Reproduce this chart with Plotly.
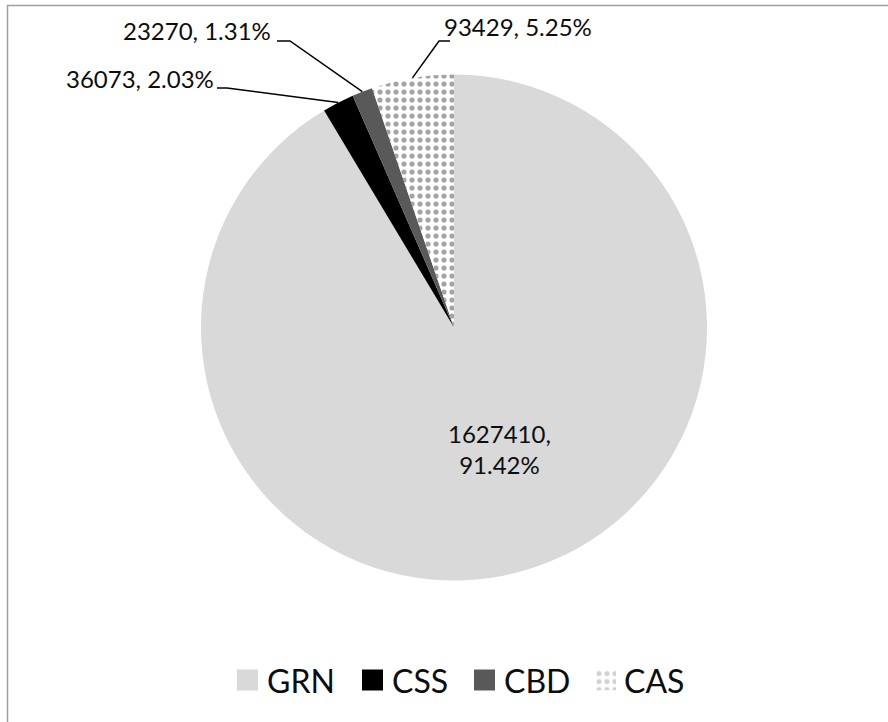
import math
import plotly.graph_objects as go

# Slice data
categories = ["GRN", "CSS", "CBD", "CAS"]
values = [1627410, 36073, 23270, 93429]

# Colours / fill styles per slice
colors = ["#d9d9d9", "#000000", "#595959", "#ffffff"]
patterns = ["", "", "", "."]
PATTERN_STYLE = dict(fgcolor="#a3a3a3", bgcolor="#ffffff", size=8, solidity=0.33)

W, H = 888, 722
CX, CY, R = 454.0, 327.5, 253.0   # pie centre and radius in pixels
FONT = "Lato"
TEXT_COLOR = "#0d0d0d"

# Label placement (pixels): text anchor, and the bend of the leader line
label_layout = {
    "CSS": dict(x=216, y=79, xanchor="right", bend=[(227, 88), (217, 88)]),
    "CBD": dict(x=273, y=30, xanchor="right", bend=[(290, 41), (277, 41)]),
    "CAS": dict(x=442, y=27, xanchor="left", bend=[(439, 41), (450, 41)]),
}

# Legend placement (pixels): swatch left edges, text left edges, row centre
legend_swatch_x = [237, 362, 474, 595]
legend_text_x = [265, 390, 502, 622]
LEGEND_Y = 680
SWATCH = 21


def px(x):
    return x / W


def py(y):
    return 1 - y / H


total = sum(values)

fig = go.Figure(
    go.Pie(
        labels=categories,
        values=values,
        sort=False,
        direction="clockwise",
        rotation=0,
        textinfo="none",
        hoverinfo="label+value+percent",
        showlegend=False,
        marker=dict(
            colors=colors,
            line=dict(width=0),
            pattern=dict(shape=patterns, **PATTERN_STYLE),
        ),
        domain=dict(x=[px(CX - R), px(CX + R)], y=[py(CY + R), py(CY - R)]),
    )
)

annotations = []
shapes = []
cum = 0.0
for name, v in zip(categories, values):
    frac = v / total
    mid = cum + frac / 2
    cum += frac
    ang = 2 * math.pi * mid
    pct = f"{frac * 100:.2f}%"
    if name in label_layout:
        lay = label_layout[name]
        ex = CX + R * math.sin(ang)
        ey = CY - R * math.cos(ang)
        (bx1, by1), (bx2, by2) = lay["bend"]
        path = (
            f"M {px(ex)},{py(ey)} L {px(bx1)},{py(by1)} L {px(bx2)},{py(by2)}"
        )
        shapes.append(
            dict(type="path", xref="paper", yref="paper", path=path,
                 line=dict(color="#000000", width=1.5))
        )
        annotations.append(
            dict(x=px(lay["x"]), y=py(lay["y"]), xref="paper", yref="paper",
                 text=f"{v}, {pct}", showarrow=False,
                 xanchor=lay["xanchor"], yanchor="middle",
                 font=dict(family=FONT, size=24, color=TEXT_COLOR))
        )
    else:
        # large slice: label inside, halfway out along the mid angle
        rr = 0.5 * R
        tx = CX + rr * math.sin(ang)
        ty = CY - rr * math.cos(ang)
        annotations.append(
            dict(x=px(tx), y=py(ty), xref="paper", yref="paper",
                 text=f"{v},<br>{pct}", showarrow=False, xshift=12,
                 xanchor="center", yanchor="middle",
                 font=dict(family=FONT, size=24, color=TEXT_COLOR))
        )

# Legend: swatches and names along the bottom
for i, name in enumerate(categories):
    sx = legend_swatch_x[i]
    x0, x1 = px(sx), px(sx + SWATCH)
    y0, y1 = py(LEGEND_Y + SWATCH / 2), py(LEGEND_Y - SWATCH / 2)
    if patterns[i]:
        # patterned swatch drawn as a filled polygon on its own hidden axes
        fig.add_trace(
            go.Scatter(
                x=[0, 1, 1, 0, 0], y=[0, 0, 1, 1, 0],
                mode="lines", fill="toself",
                line=dict(width=0, color="rgba(0,0,0,0)"),
                fillcolor=PATTERN_STYLE["bgcolor"],
                fillpattern=dict(shape=patterns[i], **PATTERN_STYLE),
                hoverinfo="skip", showlegend=False,
                xaxis="x", yaxis="y",
            )
        )
        fig.update_layout(
            xaxis=dict(domain=[x0, x1], range=[0, 1], visible=False, fixedrange=True),
            yaxis=dict(domain=[y0, y1], range=[0, 1], visible=False, fixedrange=True),
        )
    else:
        shapes.append(
            dict(type="rect", xref="paper", yref="paper",
                 x0=x0, x1=x1, y0=y0, y1=y1,
                 line=dict(width=0), fillcolor=colors[i])
        )
    annotations.append(
        dict(x=px(legend_text_x[i]), y=py(LEGEND_Y), xref="paper", yref="paper",
             text=name, showarrow=False, xanchor="left", yanchor="middle",
             font=dict(family=FONT, size=32, color=TEXT_COLOR))
    )

# Chart frame
shapes.append(
    dict(type="rect", xref="paper", yref="paper",
         x0=px(7.5), x1=1.05, y0=-0.05, y1=py(5.5),
         line=dict(color="#9e9e9e", width=1.5), fillcolor="rgba(0,0,0,0)")
)

fig.update_layout(
    width=W,
    height=H,
    margin=dict(l=0, r=0, t=0, b=0),
    paper_bgcolor="#ffffff",
    plot_bgcolor="rgba(0,0,0,0)",
    showlegend=False,
    annotations=annotations,
    shapes=shapes,
)

fig.write_html("out.html")
